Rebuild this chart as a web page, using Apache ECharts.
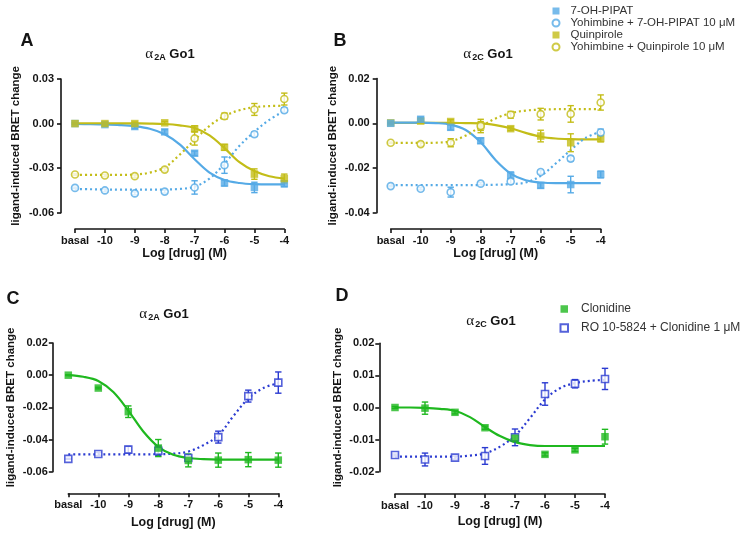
<!DOCTYPE html>
<html><head><meta charset="utf-8">
<script src="https://cdn.jsdelivr.net/npm/echarts@6/dist/echarts.min.js"></script>
<style>html,body{margin:0;padding:0;background:#fff}#c{width:750px;height:535px}</style>
</head><body><div id="c"></div>
<script>
// ---------- data ----------
const DOSE_X = [-11, -10, -9, -8, -7, -6, -5, -4];
const X_TICK_LABELS = ['basal', '-10', '-9', '-8', '-7', '-6', '-5', '-4'];
const CURVE_X = [-11, -10.5, -10, -9.5, -9, -8.5, -8, -7.5, -7, -6.5, -6, -5.5, -5, -4.5, -4];

const SERIES_NAMES_AB = ['7-OH-PIPAT', 'Yohimbine + 7-OH-PIPAT 10 \u03bcM', 'Quinpirole', 'Yohimbine + Quinpirole 10 \u03bcM'];
const SERIES_NAMES_CD = ['Clonidine', 'RO 10-5824 + Clonidine 1 \u03bcM'];
const PANEL_LETTERS = ['A', 'B', 'C', 'D'];
const PANEL_RECEPTORS = ['2A', '2C', '2A', '2C'];

// Panel A (alpha2A Go1)
const A_PIPAT = [0, -0.0007, -0.002, -0.0056, -0.020, -0.040, -0.043, -0.0405];
const A_PIPAT_ERR = [0.0005, 0.001, 0.0015, 0.0015, 0.0015, 0.002, 0.0035, 0.002];
const A_PIPAT_FIT = [-0.0003, -0.0004, -0.0006, -0.001, -0.0018, -0.0035, -0.0072, -0.014, -0.024, -0.033, -0.038, -0.040, -0.0408, -0.041, -0.041];
const A_YOH_PIPAT = [-0.0433, -0.045, -0.047, -0.0458, -0.043, -0.028, -0.0072, 0.009];
const A_YOH_PIPAT_ERR = [0.0005, 0.001, 0.001, 0.001, 0.0045, 0.0055, 0.0015, 0.0015];
const A_YOH_PIPAT_FIT = [-0.044, -0.0442, -0.0444, -0.0445, -0.0445, -0.0445, -0.0444, -0.044, -0.0425, -0.037, -0.027, -0.015, -0.0055, 0.0025, 0.0085];
const A_QUIN = [0, 0, 0, 0.0005, -0.0035, -0.016, -0.034, -0.037];
const A_QUIN_ERR = [0.0005, 0.0008, 0.001, 0.001, 0.002, 0.002, 0.0035, 0.003];
const A_QUIN_FIT = [0.0002, 0.0002, 0.0002, 0.0002, 0.0001, 0, -0.0003, -0.0012, -0.003, -0.008, -0.0165, -0.026, -0.032, -0.0355, -0.037];
const A_YOH_QUIN = [-0.0343, -0.035, -0.0354, -0.031, -0.010, 0.005, 0.0095, 0.0165];
const A_YOH_QUIN_ERR = [0.0005, 0.0008, 0.0008, 0.001, 0.0045, 0.002, 0.004, 0.004];
const A_YOH_QUIN_FIT = [-0.0345, -0.0345, -0.0345, -0.0345, -0.0343, -0.033, -0.0295, -0.021, -0.011, -0.0015, 0.005, 0.009, 0.011, 0.0118, 0.012];

// Panel B (alpha2C Go1)
const B_PIPAT = [0, 0.0018, -0.0018, -0.0078, -0.0233, -0.0278, -0.0274, -0.0229];
const B_PIPAT_ERR = [0.0003, 0.001, 0.0012, 0.0012, 0.0015, 0.0012, 0.0037, 0.0015];
const B_PIPAT_FIT = [0.0003, 0.0003, 0.0003, 0.0001, -0.0006, -0.003, -0.0085, -0.0165, -0.0225, -0.0255, -0.0265, -0.0268, -0.0268, -0.0268, -0.0268];
const B_YOH_PIPAT = [-0.0281, -0.0293, -0.0308, -0.027, -0.026, -0.0218, -0.0158, -0.0041];
const B_YOH_PIPAT_ERR = [0.0003, 0.0005, 0.0022, 0.0005, 0.001, 0.0008, 0.001, 0.0015];
const B_YOH_PIPAT_FIT = [-0.0277, -0.0277, -0.0277, -0.0277, -0.0277, -0.0277, -0.0276, -0.0275, -0.0272, -0.0265, -0.0235, -0.018, -0.012, -0.0065, -0.0038];
const B_QUIN = [0.0002, 0.001, 0.0008, -0.0012, -0.0024, -0.0057, -0.0087, -0.0068];
const B_QUIN_ERR = [0.0003, 0.001, 0.0008, 0.003, 0.0008, 0.0026, 0.004, 0.0015];
const B_QUIN_FIT = [0.0002, 0.0002, 0.0002, 0.0002, 0.0002, 0.0001, 0, -0.0008, -0.0022, -0.0043, -0.006, -0.0068, -0.0071, -0.0072, -0.0072];
const B_YOH_QUIN = [-0.0087, -0.0093, -0.0087, -0.0012, 0.0038, 0.0041, 0.0042, 0.0093];
const B_YOH_QUIN_ERR = [0.0003, 0.0008, 0.0018, 0.002, 0.0015, 0.0026, 0.0037, 0.0034];
const B_YOH_QUIN_FIT = [-0.0088, -0.0088, -0.0088, -0.0087, -0.008, -0.0055, -0.0015, 0.0022, 0.0045, 0.0057, 0.0061, 0.0063, 0.0063, 0.0063, 0.0063];

// Panel C (alpha2A Go1)
const C_CLON = [0, -0.008, -0.0227, -0.0453, -0.053, -0.0528, -0.0525, -0.0528];
const C_CLON_ERR = [0.0003, 0.0005, 0.0036, 0.0053, 0.004, 0.0044, 0.0044, 0.0044];
const C_CLON_FIT = [0, -0.001, -0.0036, -0.0105, -0.022, -0.035, -0.0445, -0.0495, -0.0515, -0.0522, -0.0525, -0.0525, -0.0525, -0.0525, -0.0525];
const C_RO = [-0.052, -0.049, -0.0463, -0.047, -0.0515, -0.0385, -0.013, -0.0046];
const C_RO_ERR = [0.0003, 0.001, 0.002, 0.003, 0.001, 0.0037, 0.0037, 0.0066];
const C_RO_FIT = [-0.0492, -0.0492, -0.0492, -0.0492, -0.0492, -0.0492, -0.0491, -0.0488, -0.0475, -0.0435, -0.0375, -0.0255, -0.0145, -0.008, -0.005];

// Panel D (alpha2C Go1)
const D_CLON = [0, -0.0002, -0.0015, -0.0063, -0.0096, -0.0146, -0.0132, -0.0091];
const D_CLON_ERR = [0.0003, 0.0019, 0.0005, 0.0005, 0.001, 0.0005, 0.0005, 0.0023];
const D_CLON_FIT = [0, 0, -0.0001, -0.0004, -0.001, -0.003, -0.0061, -0.0089, -0.0108, -0.0117, -0.012, -0.012, -0.012, -0.012, -0.012];
const D_RO = [-0.0148, -0.0162, -0.0156, -0.0151, -0.0093, 0.0042, 0.0074, 0.0089];
const D_RO_ERR = [0.0003, 0.002, 0.0005, 0.0026, 0.0026, 0.0035, 0.0013, 0.0033];
const D_RO_FIT = [-0.0153, -0.0153, -0.0153, -0.0153, -0.0153, -0.015, -0.0143, -0.0122, -0.0088, -0.0033, 0.0025, 0.006, 0.0076, 0.0083, 0.0086];

// y-axis ranges per panel
const Y_MIN = [-0.06, -0.04, -0.06, -0.02];
const Y_MAX = [0.03, 0.02, 0.02, 0.02];
const Y_STEP = [0.03, 0.02, 0.02, 0.01];

// ---------- style / layout ----------
const FONT = 'Liberation Sans, Arial, Helvetica, sans-serif';
const INK = '#141414';
const C_LBLUE = '#55aae6';
const C_YEL = '#c3bd18';
const C_GREEN = '#1fb81f';
const C_DBLUE = '#2b3bd1';

const GRIDS = [
  { left: 75, top: 79, width: 209.3, height: 133.7 },
  { left: 390.7, top: 78.6, width: 210, height: 134.1 },
  { left: 68.3, top: 343, width: 210, height: 128.7 },
  { left: 395, top: 343.3, width: 210, height: 128.4 }
];
const X_OFFSET = [16.3, 16.3, 21.6, 22.3];
const Y_OFFSET = [14, 14, 15.5, 15.7];
const Y_NAME_GAP = [39, 38, 36, 35];
const X_NAME_GAP = [15, 17, 23, 21];
const Y_LABEL_MARGIN = [7, 7, 5, 5];
const TITLE_POS = [[170, 54], [488, 54], [164, 314], [491, 321]];
const LETTER_POS = [[27, 41], [340, 41], [13, 299], [342, 296]];

function seriesSet(gi, name, pts, errs, fit, color, symbol, open, dotted) {
  const out = [];
  out.push({
    type: 'line', name: name + ' fit', xAxisIndex: gi, yAxisIndex: gi,
    data: CURVE_X.map((x, k) => [x, fit[k]]),
    showSymbol: false, smooth: 0.35, silent: true, z: 2,
    lineStyle: { color: color, width: 2.2, type: dotted ? [2, 3] : 'solid' },
    itemStyle: { color: color }
  });
  out.push({
    type: 'custom', name: name + ' err', xAxisIndex: gi, yAxisIndex: gi, z: 3, silent: true,
    data: DOSE_X.map((x, k) => [x, pts[k] - errs[k], pts[k] + errs[k]]),
    encode: { x: 0, y: [1, 2] },
    renderItem: function (params, api) {
      const x = api.value(0);
      const lo = api.coord([x, api.value(1)]);
      const hi = api.coord([x, api.value(2)]);
      const w = 3.2;
      const st = { stroke: color, lineWidth: 1.4 };
      return { type: 'group', children: [
        { type: 'line', shape: { x1: lo[0], y1: lo[1], x2: hi[0], y2: hi[1] }, style: st },
        { type: 'line', shape: { x1: lo[0] - w, y1: lo[1], x2: lo[0] + w, y2: lo[1] }, style: st },
        { type: 'line', shape: { x1: hi[0] - w, y1: hi[1], x2: hi[0] + w, y2: hi[1] }, style: st }
      ] };
    }
  });
  out.push({
    type: 'scatter', name: name, xAxisIndex: gi, yAxisIndex: gi, z: 4,
    data: DOSE_X.map((x, k) => [x, pts[k]]),
    symbol: symbol, symbolSize: open ? 7 : 7.5,
    itemStyle: open ? { color: '#ffffff', borderColor: color, borderWidth: 1.6 } : { color: color }
  });
  return out;
}

const series = [].concat(
  seriesSet(0, SERIES_NAMES_AB[0], A_PIPAT, A_PIPAT_ERR, A_PIPAT_FIT, C_LBLUE, 'rect', false, false),
  seriesSet(0, SERIES_NAMES_AB[2], A_QUIN, A_QUIN_ERR, A_QUIN_FIT, C_YEL, 'rect', false, false),
  seriesSet(0, SERIES_NAMES_AB[1], A_YOH_PIPAT, A_YOH_PIPAT_ERR, A_YOH_PIPAT_FIT, C_LBLUE, 'circle', true, true),
  seriesSet(0, SERIES_NAMES_AB[3], A_YOH_QUIN, A_YOH_QUIN_ERR, A_YOH_QUIN_FIT, C_YEL, 'circle', true, true),
  seriesSet(1, SERIES_NAMES_AB[2], B_QUIN, B_QUIN_ERR, B_QUIN_FIT, C_YEL, 'rect', false, false),
  seriesSet(1, SERIES_NAMES_AB[0], B_PIPAT, B_PIPAT_ERR, B_PIPAT_FIT, C_LBLUE, 'rect', false, false),
  seriesSet(1, SERIES_NAMES_AB[1], B_YOH_PIPAT, B_YOH_PIPAT_ERR, B_YOH_PIPAT_FIT, C_LBLUE, 'circle', true, true),
  seriesSet(1, SERIES_NAMES_AB[3], B_YOH_QUIN, B_YOH_QUIN_ERR, B_YOH_QUIN_FIT, C_YEL, 'circle', true, true),
  seriesSet(2, SERIES_NAMES_CD[1], C_RO, C_RO_ERR, C_RO_FIT, C_DBLUE, 'rect', true, true),
  seriesSet(2, SERIES_NAMES_CD[0], C_CLON, C_CLON_ERR, C_CLON_FIT, C_GREEN, 'rect', false, false),
  seriesSet(3, SERIES_NAMES_CD[1], D_RO, D_RO_ERR, D_RO_FIT, C_DBLUE, 'rect', true, true),
  seriesSet(3, SERIES_NAMES_CD[0], D_CLON, D_CLON_ERR, D_CLON_FIT, C_GREEN, 'rect', false, false)
);

const axisLine = { show: true, onZero: false, lineStyle: { color: INK, width: 1.6 } };
const axisTick = { show: true, length: 4, lineStyle: { color: INK, width: 1.6 } };

const xAxes = GRIDS.map((g, i) => ({
  gridIndex: i, type: 'value', position: 'bottom', min: -11, max: -4, interval: 1, offset: X_OFFSET[i],
  axisLine: axisLine, axisTick: axisTick, splitLine: { show: false },
  axisLabel: {
    formatter: v => X_TICK_LABELS[DOSE_X.indexOf(v)],
    fontFamily: FONT, fontWeight: 'bold', fontSize: 11, color: INK, margin: 6
  },
  name: 'Log [drug] (M)', nameLocation: 'middle', nameGap: X_NAME_GAP[i],
  nameTextStyle: { fontFamily: FONT, fontWeight: 'bold', fontSize: 12.5, color: INK, padding: i === 0 ? [0, 0, 0, 10] : 0 }
}));

const yAxes = GRIDS.map((g, i) => ({
  gridIndex: i, type: 'value', position: 'left', min: Y_MIN[i], max: Y_MAX[i], interval: Y_STEP[i], offset: Y_OFFSET[i],
  axisLine: axisLine, axisTick: axisTick, splitLine: { show: false },
  axisLabel: {
    formatter: v => v.toFixed(2),
    fontFamily: FONT, fontWeight: 'bold', fontSize: 11, color: INK, margin: Y_LABEL_MARGIN[i]
  },
  name: 'ligand-induced BRET change', nameLocation: 'middle', nameGap: Y_NAME_GAP[i],
  nameTextStyle: { fontFamily: FONT, fontWeight: 'bold', fontSize: 11.5, color: INK }
}));

const graphics = [];
PANEL_LETTERS.forEach((L, i) => {
  graphics.push({ type: 'text', x: LETTER_POS[i][0], y: LETTER_POS[i][1], style: {
    text: L, fontFamily: FONT, fontWeight: 'bold', fontSize: 18, fill: INK, align: 'center', verticalAlign: 'middle' } });
  graphics.push({ type: 'text', x: TITLE_POS[i][0], y: TITLE_POS[i][1], style: {
    text: '{a|\u03b1}{s|' + PANEL_RECEPTORS[i] + '}{g| Go1}', align: 'center', verticalAlign: 'middle', fill: INK,
    rich: {
      a: { fontFamily: 'Liberation Serif, DejaVu Serif, serif', fontSize: 15, fill: INK, lineHeight: 16 },
      s: { fontFamily: FONT, fontWeight: 'bold', fontSize: 9, fill: INK, lineHeight: 16, padding: [7, 0, 0, 1] },
      g: { fontFamily: FONT, fontWeight: 'bold', fontSize: 13, fill: INK, lineHeight: 16 }
    } } });
});

const option = {
  animation: false,
  backgroundColor: '#ffffff',
  grid: GRIDS.map(g => Object.assign({ containLabel: false, outerBoundsMode: 'none' }, g)),
  xAxis: xAxes,
  yAxis: yAxes,
  legend: [
    {
      data: [
        { name: SERIES_NAMES_AB[0], icon: 'rect' },
        { name: SERIES_NAMES_AB[1], icon: 'circle' },
        { name: SERIES_NAMES_AB[2], icon: 'rect' },
        { name: SERIES_NAMES_AB[3], icon: 'circle' }
      ],
      orient: 'vertical', left: 551.5, top: 5, padding: 0, itemWidth: 7, itemHeight: 7, itemGap: 0,
      selectedMode: false,
      textStyle: { fontFamily: FONT, fontSize: 11.5, color: '#333', lineHeight: 11.8, padding: [0, 0, 0, 6] }
    },
    {
      data: [
        { name: SERIES_NAMES_CD[0], icon: 'rect' },
        { name: SERIES_NAMES_CD[1], icon: 'rect' }
      ],
      orient: 'vertical', left: 559.5, top: 302, padding: 0, itemWidth: 7.5, itemHeight: 7.5, itemGap: 5,
      selectedMode: false,
      textStyle: { fontFamily: FONT, fontSize: 12, color: '#333', lineHeight: 14, padding: [0, 0, 0, 8] }
    }
  ],
  graphic: graphics,
  series: series
};

const chart = echarts.init(document.getElementById('c'), null, { renderer: 'canvas' });
chart.setOption(option);
</script>
</body></html>
